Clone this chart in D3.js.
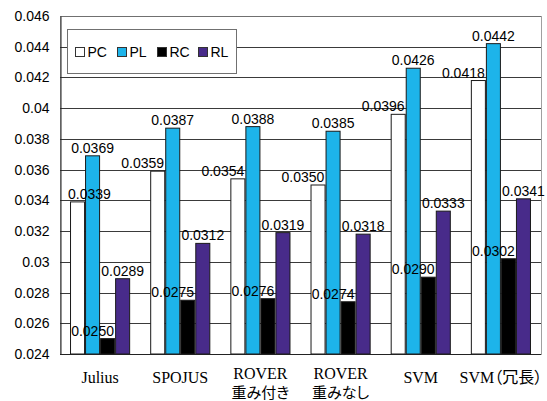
<!DOCTYPE html>
<html>
<head>
<meta charset="utf-8">
<script src="https://cdn.jsdelivr.net/npm/d3@7"></script>
<style>
  html, body { margin: 0; padding: 0; background: #fff; }
  svg { display: block; }
</style>
</head>
<body>
<div id="chart"></div>
<script>
// ---- data ----
const categories = [["Julius"], ["SPOJUS"], ["ROVER", "重み付き"], ["ROVER", "重みなし"], ["SVM"], ["SVM（冗長）"]];
const seriesNames = ["PC", "PL", "RC", "RL"];
const PC = [0.0339, 0.0359, 0.0354, 0.0350, 0.0396, 0.0418];
const PL = [0.0369, 0.0387, 0.0388, 0.0385, 0.0426, 0.0442];
const RC = [0.0250, 0.0275, 0.0276, 0.0274, 0.0290, 0.0302];
const RL = [0.0289, 0.0312, 0.0319, 0.0318, 0.0333, 0.0341];
const yTicks = [0.024, 0.026, 0.028, 0.03, 0.032, 0.034, 0.036, 0.038, 0.04, 0.042, 0.044, 0.046];
const yTickLabels = ["0.024", "0.026", "0.028", "0.03", "0.032", "0.034", "0.036", "0.038", "0.04", "0.042", "0.044", "0.046"];

const seriesValues = [PC, PL, RC, RL];
const colors = ["#ffffff", "#1db4ea", "#000000", "#482b8a"];
const labelShift = [-1, 0, -1, 0]; // label offset in bar widths (as in the original)

const W = 547, H = 401;
const mLeft = 60, mRight = 541, mTop = 16, mBottom = 354;

const svg = d3.select("#chart").append("svg").attr("width", W).attr("height", H);

const catKeys = categories.map((c, i) => i);
const x0 = d3.scaleBand().domain(catKeys).range([mLeft, mRight]).paddingInner(0.25).paddingOuter(0.125);
const x1 = d3.scaleBand().domain(seriesNames).range([0, x0.bandwidth()]);
const y = d3.scaleLinear().domain([0.024, 0.046]).range([mBottom, mTop]);

// plot frame (light)
svg.append("rect").attr("x", mLeft + 0.5).attr("y", mTop + 0.5).attr("width", mRight - mLeft).attr("height", mBottom - mTop)
  .attr("fill", "#fff").attr("stroke", "#a0a0a0").attr("stroke-width", 1);

// gridlines
svg.append("g").selectAll("line").data(yTicks.slice(1, -1)).join("line")
  .attr("x1", mLeft).attr("x2", mRight)
  .attr("y1", d => Math.round(y(d)) + 0.5).attr("y2", d => Math.round(y(d)) + 0.5)
  .attr("stroke", "#3a3a3a").attr("stroke-width", 1);
svg.append("line").attr("x1", mLeft).attr("x2", mRight).attr("y1", mTop + 0.5).attr("y2", mTop + 0.5)
  .attr("stroke", "#707070");

// y axis
const yAxis = d3.axisLeft(y).tickValues(yTicks).tickFormat((d, i) => yTickLabels[i]).tickSize(0).tickPadding(11);
const ya = svg.append("g").attr("transform", `translate(${mLeft + 0.5},0)`).call(yAxis);
ya.select(".domain").attr("stroke", "#222");
ya.selectAll("text").attr("font-family", "'Liberation Sans', Arial, sans-serif").attr("font-size", 14).attr("fill", "#000");

// bars
const groups = svg.append("g").selectAll("g").data(catKeys).join("g")
  .attr("transform", d => `translate(${x0(d)},0)`);
groups.selectAll("rect").data(ci => seriesNames.map((s, si) => ({ s, si, v: seriesValues[si][ci] }))).join("rect")
  .attr("x", d => x1(d.s) + 0.5)
  .attr("y", d => y(d.v))
  .attr("width", x1.bandwidth() - 1)
  .attr("height", d => mBottom - y(d.v))
  .attr("fill", d => colors[d.si])
  .attr("stroke", "#1a1a1a").attr("stroke-width", 1);

// x axis line
svg.append("line").attr("x1", mLeft).attr("x2", mRight).attr("y1", mBottom + 0.5).attr("y2", mBottom + 0.5)
  .attr("stroke", "#222");

// data labels
const fmt = d3.format(".4f");
const lbl = svg.append("g").attr("font-family", "'Liberation Sans', Arial, sans-serif").attr("font-size", 14).attr("fill", "#000");
catKeys.forEach(ci => {
  seriesNames.forEach((s, si) => {
    const v = seriesValues[si][ci];
    const t = lbl.append("text").text(fmt(v)).attr("text-anchor", "middle")
      .attr("y", y(v) - 3);
    let cx = x0(ci) + x1(s) + x1.bandwidth() / 2 + labelShift[si] * x1.bandwidth();
    const w = t.node().getComputedTextLength();
    if (cx - w / 2 < mLeft + 8) cx = mLeft + 8 + w / 2;
    t.attr("x", cx);
  });
});

// x category labels
const xl = svg.append("g").attr("font-family", "'Liberation Serif', 'Times New Roman', 'Noto Sans CJK JP', serif")
  .attr("font-size", 16).attr("fill", "#000").style("font-feature-settings", "'palt'");
categories.forEach((lines, ci) => {
  const cx = x0(ci) + x0.bandwidth() / 2;
  const base = lines.length === 1 ? [383] : [379, 398];
  lines.forEach((ln, li) => {
    const t = xl.append("text").attr("x", cx).attr("y", base[li]).attr("text-anchor", "middle")
      .attr("font-size", li === 0 ? 16 : 15).text(ln);
    const w = t.node().getComputedTextLength();
    if (cx + w / 2 > W - 2) t.attr("x", W - 2 - w / 2);
  });
});

// legend
const lg = svg.append("g").attr("transform", "translate(67.5,29.5)");
lg.append("rect").attr("width", 169).attr("height", 44).attr("fill", "#fff").attr("stroke", "#707070");
const legX = [8, 50, 90, 131];
seriesNames.forEach((s, si) => {
  const g = lg.append("g").attr("transform", `translate(${legX[si]},18)`);
  g.append("rect").attr("width", 9).attr("height", 9).attr("fill", colors[si]).attr("stroke", "#333");
  g.append("text").attr("x", 12).attr("y", 9.5).attr("font-family", "'Liberation Sans', Arial, sans-serif")
    .attr("font-size", 14).text(s);
});
</script>
</body>
</html>
